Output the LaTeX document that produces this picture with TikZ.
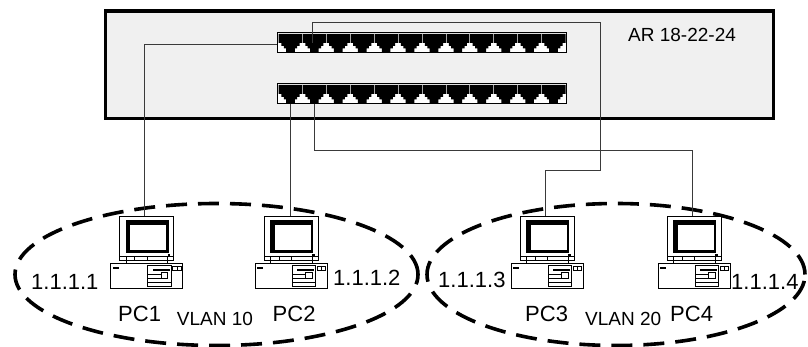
\documentclass[tikz,border=0pt]{standalone}
\usepackage{fontspec}
\setmainfont{Liberation Sans}
\usetikzlibrary{calc}

\definecolor{chassisfill}{HTML}{F0F0F0}
\definecolor{wire}{HTML}{3A3A3A}

\def\pw{23.917}

\tikzset{
  router/.style={draw=black, fill=chassisfill, line width=3.3pt, rectangle,
    minimum width=667.8pt, minimum height=107.3pt, inner sep=0pt, outer sep=0pt,
    anchor=north west},
  wireline/.style={draw=wire, line width=0.9pt},
  vlan/.style={draw=black, line width=3.6pt, dash pattern=on 21pt off 11pt},
  iplbl/.style={inner sep=0pt, anchor=base west, font=\fontsize{22}{26}\selectfont},
  netlbl/.style={inner sep=0pt, anchor=base west, font=\fontsize{19}{22}\selectfont},
  thin/.style={line width=0.7pt},
  % a row of twelve RJ45 sockets
  portstrip/.pic={
    \draw[fill=white, line width=1.2pt] (0,0) rectangle (289.4,20.4);
    \foreach \i in {0,...,11}{
      \pgfmathsetmacro\xa{1.2+\i*\pw}
      \fill[black] (\xa,1.5) -- ({\xa+\pw},1.5) -- ({\xa+\pw},10.5)
        -- ({\xa+.88*\pw},10.5) -- ({\xa+.88*\pw},13.5)
        -- ({\xa+.78*\pw},13.5) -- ({\xa+.78*\pw},16.2)
        -- ({\xa+.68*\pw},16.2) -- ({\xa+.68*\pw},19.5)
        -- ({\xa+.32*\pw},19.5) -- ({\xa+.32*\pw},16.2)
        -- ({\xa+.22*\pw},16.2) -- ({\xa+.22*\pw},13.5)
        -- ({\xa+.12*\pw},13.5) -- ({\xa+.12*\pw},10.5)
        -- (\xa,10.5) -- cycle;
    }
    \foreach \i in {1,...,11}{
      \draw[gray!70, line width=0.7pt] ({1.2+\i*\pw},1.5) -- ({1.2+\i*\pw},10.5);
    }
    \coordinate (-w) at (0,12);
    \coordinate (-in2) at (35,10.5);
    \coordinate (-s1) at ({1.2+.5*\pw},20.4);
    \coordinate (-s2) at ({1.2+1.5*\pw},20.4);
  },
  % desktop computer: monitor on a system unit
  computer/.pic={
    \draw[fill=white, line width=0.8pt] (0,0) rectangle (54,44);
    \draw[thin] (0,40.7) -- (54,40.7);
    \fill (6,4) rectangle (49.3,36.7);
    \fill[white] (10.7,9) rectangle (46.7,34);
    \fill (48.3,37.6) rectangle (50.9,39.8);
    \foreach \t in {6.7,15,27.7,48.3}{\draw[thin] (\t,40.7) -- (\t,44);}
    \foreach \t in {6.7,48.3}{\draw[thin] (\t,44) -- (\t,47.3);}
    \draw[fill=white, line width=0.8pt] (-9,47.3) rectangle (63.3,72);
    \fill (-6.7,50.7) rectangle (-0.7,52.7);
    \draw[thin] (28.3,49) rectangle (51.7,70.5);
    \fill (33.3,53) rectangle (50,54.7);
    \draw[thin] (28.3,58) -- (41.7,58) (28.3,62.3) -- (41.7,62.3) (28.3,66.7) -- (51.7,66.7);
    \draw[thin] (41.7,56.7) rectangle (48.3,62.3);
    \draw[thin] (53.3,50) rectangle (61.7,54) (57.5,50) -- (57.5,54);
    \coordinate (-in) at (25,0);
  }
}

\begin{document}
\begin{tikzpicture}[x=1pt,y=-1pt]
\useasboundingbox (0,0) rectangle (808,347);

% router chassis with its two socket rows
\node[router] (router) at (105.5,11) {};
\pic (upper) at (277.3,32.3) {portstrip};
\pic (lower) at (277.3,83.3) {portstrip};
\node[netlbl] (model) at (628,42) {AR 18-22-24};

% VLAN groupings
\draw[vlan] (216.5,274.5) ellipse [x radius=201.5pt, y radius=71pt];
\draw[vlan] (616,274.5) ellipse [x radius=189pt, y radius=71pt];

% hosts
\pic (pc1) at (119.5,216) {computer};
\pic (pc2) at (264,216) {computer};
\pic (pc3) at (520,216) {computer};
\pic (pc4) at (667,216) {computer};

% cabling
\coordinate (bendA) at (600.7,22.3);
\coordinate (bendB) at (600.7,170);
\draw[wireline] (upper-w) -| (pc1-in);
\draw[wireline] (upper-in2) |- (bendA) -- (bendB) -| (pc3-in);
\draw[wireline] (lower-s1) -- (lower-s1 |- pc2-in);
\draw[wireline] (lower-s2) -- ++(0,46.3) -| (pc4-in);

% addresses and names
\node[iplbl] (ip1) at (31,290) {1.1.1.1};
\node[iplbl] (ip2) at (333,285) {1.1.1.2};
\node[iplbl] (ip3) at (438,287.3) {1.1.1.3};
\node[iplbl] (ip4) at (731,290) {1.1.1.4};
\node[iplbl] (n1) at (118,321.5) {PC1};
\node[iplbl] (n2) at (272.5,321.5) {PC2};
\node[iplbl] (n3) at (525,321.5) {PC3};
\node[iplbl] (n4) at (670,321.5) {PC4};
\node[netlbl] (v10) at (176.7,325) {VLAN 10};
\node[netlbl] (v20) at (585,325) {VLAN 20};
\end{tikzpicture}
\end{document}
